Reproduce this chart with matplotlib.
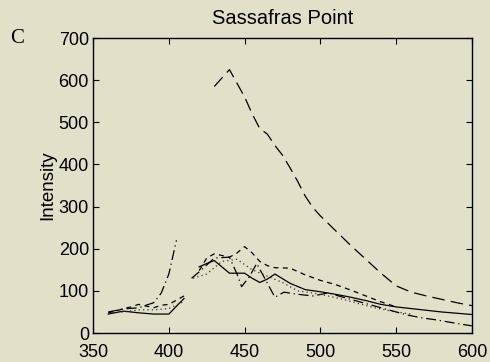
import numpy as np
import matplotlib
matplotlib.use("Agg")
import matplotlib.pyplot as plt

nan = np.nan

# Solid series
wl_solid = [360, 370, 380, 390, 400, 410, 415, 420, 425, 430, 440, 450, 455, 460, 465,
            470, 480, 490, 500, 510, 520, 530, 540, 550, 560, 570, 580, 590, 600]
solid = [45, 52, 48, 45, 45, 82, nan, 157, 165, 172, 142, 142, 130, 120, 128,
         140, 118, 103, 98, 92, 85, 77, 68, 62, 58, 54, 50, 47, 44]

# Long-dashed series (large peak)
wl_long = [430, 440, 450, 455, 460, 465, 470, 475, 480, 485, 490, 495, 500, 510,
           520, 530, 540, 550, 560, 570, 580, 590, 600]
long_dash = [585, 625, 560, 520, 485, 472, 445, 422, 392, 360, 325, 298, 278, 243,
             208, 175, 142, 112, 97, 88, 80, 72, 65]

# Short-dashed series
wl_dash = [360, 365, 370, 375, 380, 385, 390, 395, 400, 405, 410, 415, 420, 425, 430,
           440, 445, 450, 455, 460, 465, 470, 480, 490, 500, 510, 520, 530, 540, 550]
short_dash = [48, 52, 58, 62, 68, 64, 60, 66, 68, 78, 88, nan, 148, 178, 188,
              180, 190, 205, 190, 170, 160, 155, 154, 138, 125, 115, 102, 88, 74, 62]

# Dash-dot series
wl_dashdot = [360, 370, 380, 390, 395, 400, 405, 410, 415, 420, 430, 440, 445, 448,
              453, 458, 470, 476, 485, 495, 505, 515, 525, 535, 545, 557, 567, 577, 588, 600]
dash_dot = [50, 57, 60, 72, 95, 140, 220, nan, 130, 145, 178, 180, 140, 110,
            133, 165, 85, 97, 92, 88, 95, 85, 75, 65, 55, 43, 36, 31, 24, 17]

# Dotted series
wl_dot = [360, 370, 380, 390, 400, 410, 413, 416, 425, 435, 445, 455, 465, 475, 485,
          495, 505, 515, 525, 537, 550, 560]
dotted = [47, 50, 55, 55, 58, 75, nan, 130, 140, 170, 175, 150, 135, 120, 100,
          95, 88, 80, 70, 59, 50, 45]

x_ticks = [350, 400, 450, 500, 550, 600]
y_ticks = [0, 100, 200, 300, 400, 500, 600, 700]

bg = '#e3e0c9'
fig = plt.figure(figsize=(4.9, 3.62), dpi=100, facecolor=bg)
ax = fig.add_axes([0.19, 0.08, 0.773, 0.815], facecolor=bg)

lw = 0.9
ax.plot(wl_solid, solid, color='black', lw=lw, linestyle='-')
ax.plot(wl_long, long_dash, color='black', lw=lw, linestyle=(0, (10, 5)))
ax.plot(wl_dash, short_dash, color='black', lw=lw, linestyle=(0, (4, 3.5)))
ax.plot(wl_dashdot, dash_dot, color='black', lw=lw, linestyle=(0, (8, 3, 1, 3)))
ax.plot(wl_dot, dotted, color='#333333', lw=lw, linestyle=(0, (1, 2.5)))

ax.set_xlim(350, 600)
ax.set_ylim(0, 700)
ax.set_xticks(x_ticks)
ax.set_yticks(y_ticks)
ax.tick_params(direction='in', top=True, right=True, length=4, width=0.8,
               labelsize=13)
ax.tick_params(axis='x', pad=8)
ax.tick_params(axis='y', pad=3)
for lab in ax.get_xticklabels() + ax.get_yticklabels():
    lab.set_family('Liberation Sans')
for s in ax.spines.values():
    s.set_linewidth(1.0)

ax.set_ylabel('Intensity', fontsize=13.5, family='Liberation Sans', labelpad=2)
ax.set_title('Sassafras Point', fontsize=14.5, family='Liberation Sans', pad=10)
fig.text(0.02, 0.893, 'C', fontsize=15, family='Liberation Serif', ha='left', va='center')

fig.savefig('out.png', dpi=100, facecolor=bg)
